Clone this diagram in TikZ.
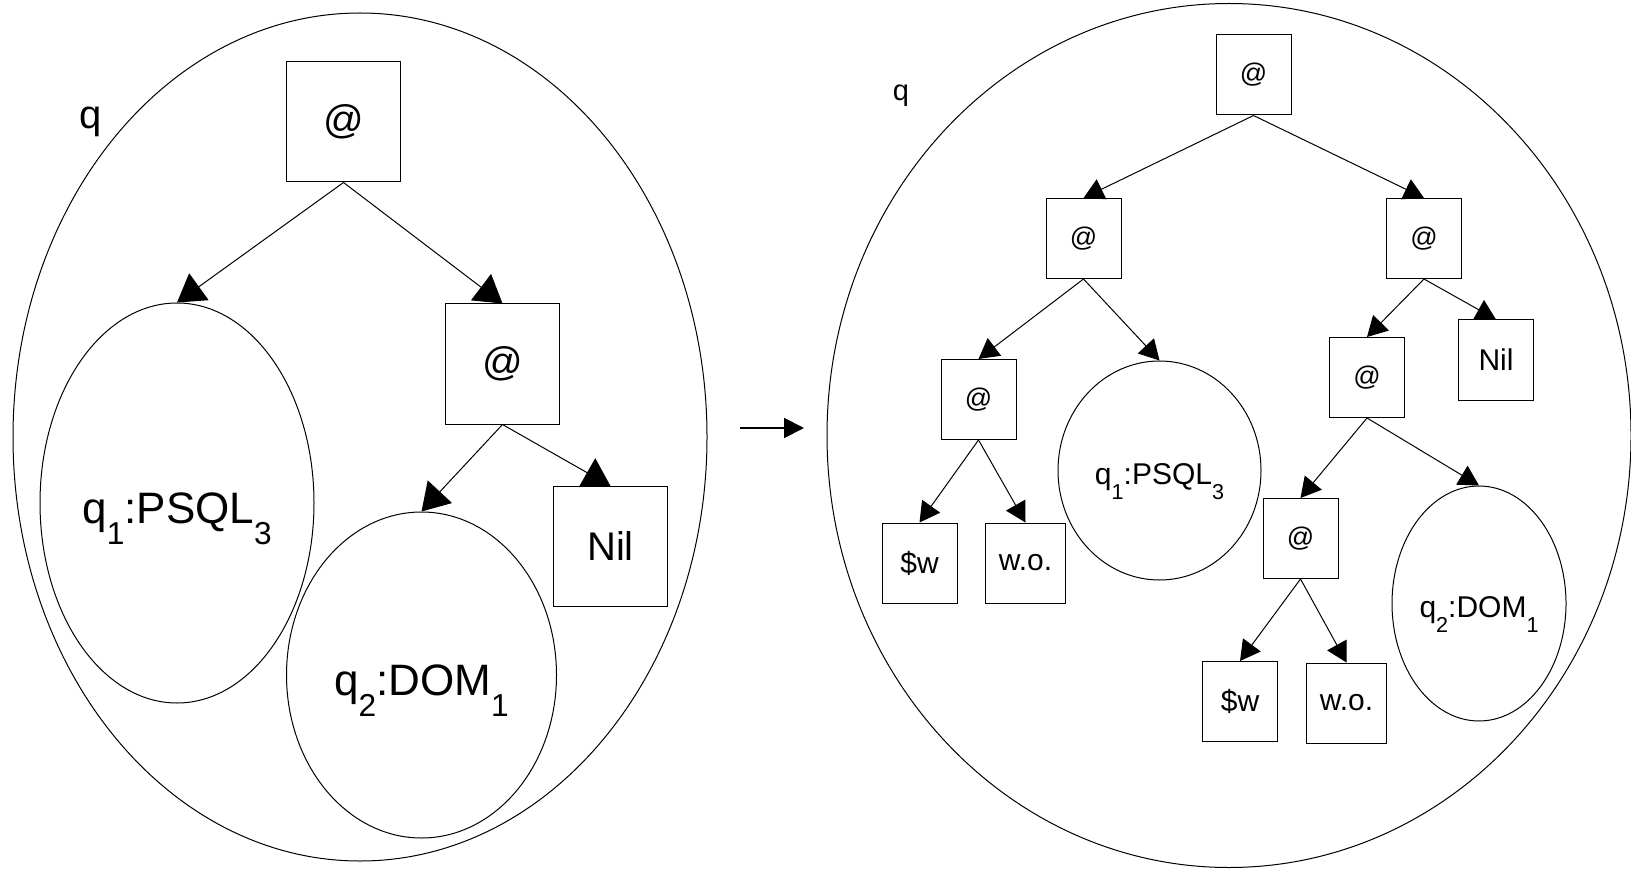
\documentclass[tikz,border=0pt]{standalone}
\usepackage{fontspec}
\setmainfont{Liberation Sans}
\usetikzlibrary{arrows.meta,shapes.geometric}
\newcommand{\lowidx}[1]{\raisebox{-0.48em}{\scalebox{0.72}{#1}}}

\begin{document}
\begin{tikzpicture}[x=0.5pt,y=-0.5pt,
  every node/.style={line width=0.5pt,inner sep=0pt},
  bigbox/.style={draw,minimum width=57pt,minimum height=60pt,font=\fontsize{20}{24}\selectfont},
  bigoval/.style={draw,ellipse,text height=20.8pt,text depth=0pt,font=\fontsize{22}{26}\selectfont},
  smallbox/.style={draw,minimum width=37.5pt,minimum height=40pt,font=\fontsize{15}{18}\selectfont},
  smalloval/.style={draw,ellipse,text height=14.2pt,text depth=0pt,font=\fontsize{15}{18}\selectfont},
  bigarr/.style={line width=0.5pt,-{Triangle[length=13.5pt,width=16.5pt]}},
  smallarr/.style={line width=0.5pt,-{Triangle[length=10pt,width=11pt]}}]
\useasboundingbox (0,0) rectangle (1631,871);

  % Before
  \draw[line width=0.5pt] (360,437) ellipse [x radius=173.5pt, y radius=212pt];
  \node[anchor=base,font=\fontsize{20}{24}\selectfont] (qL) at (91,129) {q};
  \node[bigbox] (rootL) at (343.5,122) {@};
  \node[bigbox] (appL) at (502.5,364) {@};
  \node[bigbox] (nilL) at (610.5,546.5) {Nil};
  \node[bigoval,minimum width=137pt,minimum height=200pt] (psqlL) at (177,503) {q\lowidx{1}:PSQL\lowidx{3}};
  \node[bigoval,minimum width=135pt,minimum height=163pt] (domL) at (421.5,675) {q\lowidx{2}:DOM\lowidx{1}};
  \draw[bigarr] (rootL.south) -- (psqlL.north);
  \draw[bigarr] (rootL.south) -- (appL.north);
  \draw[bigarr] (appL.south) -- (domL.north);
  \draw[bigarr] (appL.south) -- (nilL.north);

  % Rewrite
  \coordinate (from) at (740,428);
  \coordinate (to) at (804,428);
  \draw[line width=1pt,-{Triangle[length=10pt,width=10pt]}] (from) -- (to);

  % After
  \draw[line width=0.5pt] (1229,435.5) ellipse [x radius=201pt, y radius=216pt];
  \node[anchor=base,font=\fontsize{14.5}{17}\selectfont] (qR) at (901,101) {q};
  \node[smallbox,font=\fontsize{13.5}{16}\selectfont] (root) at (1253.5,75) {@};
  \node[smallbox,font=\fontsize{13.5}{16}\selectfont] (aL) at (1083.5,238.5) {@};
  \node[smallbox,font=\fontsize{13.5}{16}\selectfont] (aR) at (1424,238.5) {@};
  \node[smallbox,font=\fontsize{13.5}{16}\selectfont] (aLL) at (978.5,399.5) {@};
  \node[smalloval,minimum width=101.5pt,minimum height=109.5pt] (psqlR) at (1159.5,470.5) {q\lowidx{1}:PSQL\lowidx{3}};
  \node[smallbox] (wL) at (919.5,563) {\$w};
  \node[smallbox,minimum width=40pt] (woL) at (1025.5,563) {w.o.};
  \node[smallbox,font=\fontsize{13.5}{16}\selectfont] (aRL) at (1367,377.5) {@};
  \node[smallbox] (nilR) at (1496,360) {Nil};
  \node[smallbox,font=\fontsize{13.5}{16}\selectfont] (aRLL) at (1300.5,538.5) {@};
  \node[smalloval,minimum width=87pt,minimum height=117.5pt] (domR) at (1479,603.5) {q\lowidx{2}:DOM\lowidx{1}};
  \node[smallbox] (wR) at (1240,701.5) {\$w};
  \node[smallbox,minimum width=40pt] (woR) at (1346.5,703) {w.o.};
  \draw[smallarr] (root.south) -- (aL.north);
  \draw[smallarr] (root.south) -- (aR.north);
  \draw[smallarr] (aL.south) -- (aLL.north);
  \draw[smallarr] (aL.south) -- (psqlR.north);
  \draw[smallarr] (aLL.south) -- (wL.north);
  \draw[smallarr] (aLL.south) -- (woL.north);
  \draw[smallarr] (aR.south) -- (aRL.north);
  \draw[smallarr] (aR.south) -- (nilR.north);
  \draw[smallarr] (aRL.south) -- (aRLL.north);
  \draw[smallarr] (aRL.south) -- (domR.north);
  \draw[smallarr] (aRLL.south) -- (wR.north);
  \draw[smallarr] (aRLL.south) -- (woR.north);
\end{tikzpicture}
\end{document}
